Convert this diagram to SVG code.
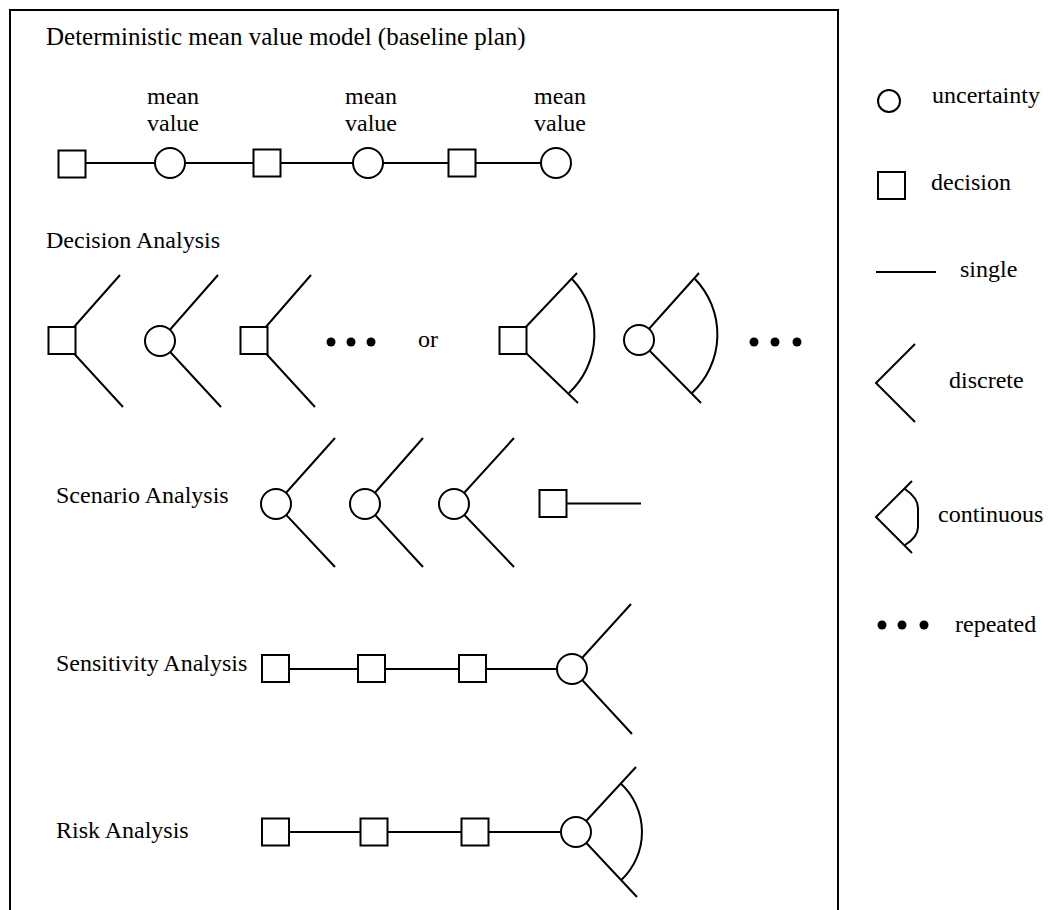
<svg xmlns="http://www.w3.org/2000/svg" width="1050" height="910" viewBox="0 0 1050 910">
<style>
.s{fill:#fff;stroke:#000;stroke-width:2}
.c{fill:none;stroke:#000;stroke-width:2}
.d{fill:#000}
text{font-family:"Liberation Serif","Times New Roman",serif;font-size:24px;fill:#000}
.m{text-anchor:middle}
</style>
<defs>
<rect id="sq" x="-13.5" y="-13.5" width="27" height="27" class="s"/>
<circle id="ci" r="15" class="s"/>
</defs>
<rect width="1050" height="910" fill="#fff"/>
<path class="c" d="M10,912 V10 H838 V912"/>
<text x="46" y="45" style="font-size:25px">Deterministic mean value model (baseline plan)</text>
<text x="46" y="248">Decision Analysis</text>
<text x="56" y="503">Scenario Analysis</text>
<text x="56" y="671">Sensitivity Analysis</text>
<text x="56" y="838">Risk Analysis</text>
<g id="labels">
<text class="m" x="173" y="104">mean</text><text class="m" x="173" y="131">value</text>
<text class="m" x="371" y="104">mean</text><text class="m" x="371" y="131">value</text>
<text class="m" x="560" y="104">mean</text><text class="m" x="560" y="131">value</text>
<text x="418" y="347">or</text>
</g>
<g id="connectors">
<path class="c" d="M72,163 H556"/>
<path class="c" d="M120,275 L62,340.5 L123,407"/>
<path class="c" d="M218,275 L160,341 L221,407"/>
<path class="c" d="M311,275 L254,340.5 L315,407"/>
<path class="c" d="M577,273 L513,340.5 L578,403"/>
<path class="c" d="M572,279 A80,80 0 0 1 569,393"/>
<path class="c" d="M699,273 L639,340 L701,403"/>
<path class="c" d="M695,279 A80,80 0 0 1 692,393"/>
<path class="c" d="M335,438 L276,504 L335,567"/>
<path class="c" d="M423,438 L365,504 L423,567"/>
<path class="c" d="M514,438 L454,504 L514,567"/>
<path class="c" d="M553,503.5 H641"/>
<path class="c" d="M275,669 H572"/>
<path class="c" d="M631,604 L572,669 L632,734"/>
<path class="c" d="M275,832 H576"/>
<path class="c" d="M636,767 L576,832 L637,897"/>
<path class="c" d="M620.7,783.5 A66,66 0 0 1 621.2,880.1"/>
</g>
<g id="n-r1-d1"><use href="#sq" x="72" y="164"/></g>
<g id="n-r1-u1"><use href="#ci" x="170" y="163"/></g>
<g id="n-r1-d2"><use href="#sq" x="267" y="163"/></g>
<g id="n-r1-u2"><use href="#ci" x="368" y="163"/></g>
<g id="n-r1-d3"><use href="#sq" x="462" y="163"/></g>
<g id="n-r1-u3"><use href="#ci" x="556" y="163"/></g>
<g id="n-r2-d1"><use href="#sq" x="62" y="340.5"/></g>
<g id="n-r2-u1"><use href="#ci" x="160" y="341"/></g>
<g id="n-r2-d2"><use href="#sq" x="254" y="340.5"/></g>
<g id="n-r2-dots"><circle class="d" cx="331" cy="342" r="4.5"/><circle class="d" cx="351" cy="342" r="4.5"/><circle class="d" cx="371" cy="342" r="4.5"/></g>
<g id="n-r2-d3"><use href="#sq" x="513" y="340.5"/></g>
<g id="n-r2-u2"><use href="#ci" x="639" y="340"/></g>
<g id="n-r2-dots2"><circle class="d" cx="754" cy="342" r="4.5"/><circle class="d" cx="775" cy="342" r="4.5"/><circle class="d" cx="797" cy="342" r="4.5"/></g>
<g id="n-r3-u1"><use href="#ci" x="276" y="504"/></g>
<g id="n-r3-u2"><use href="#ci" x="365" y="504"/></g>
<g id="n-r3-u3"><use href="#ci" x="454" y="504"/></g>
<g id="n-r3-d1"><use href="#sq" x="553" y="503.5"/></g>
<g id="n-r4-d1"><use href="#sq" x="275.5" y="668.5"/></g>
<g id="n-r4-d2"><use href="#sq" x="371.5" y="668.5"/></g>
<g id="n-r4-d3"><use href="#sq" x="472.5" y="668.5"/></g>
<g id="n-r4-u1"><use href="#ci" x="572" y="669"/></g>
<g id="n-r5-d1"><use href="#sq" x="275.5" y="832"/></g>
<g id="n-r5-d2"><use href="#sq" x="374" y="832"/></g>
<g id="n-r5-d3"><use href="#sq" x="475" y="832"/></g>
<g id="n-r5-u1"><use href="#ci" x="576" y="832"/></g>
<g id="legend">
<circle class="s" cx="889" cy="101" r="11"/>
<text x="932" y="103">uncertainty</text>
<rect class="s" x="878" y="172" width="27" height="27"/>
<text x="931" y="190">decision</text>
<path class="c" d="M876,272 H936"/>
<text x="960" y="277">single</text>
<path class="c" d="M915,344 L876,383 L915,422"/>
<text x="949" y="388">discrete</text>
<path class="c" d="M912,481 L876,517 L912,553"/>
<path class="c" d="M905,489 Q918,498 918,508 V527 Q918,537 905,545"/>
<text x="938" y="522">continuous</text>
<circle class="d" cx="882" cy="625" r="4.5"/><circle class="d" cx="902" cy="625" r="4.5"/><circle class="d" cx="924" cy="625" r="4.5"/>
<text x="955" y="632">repeated</text>
</g>
</svg>
